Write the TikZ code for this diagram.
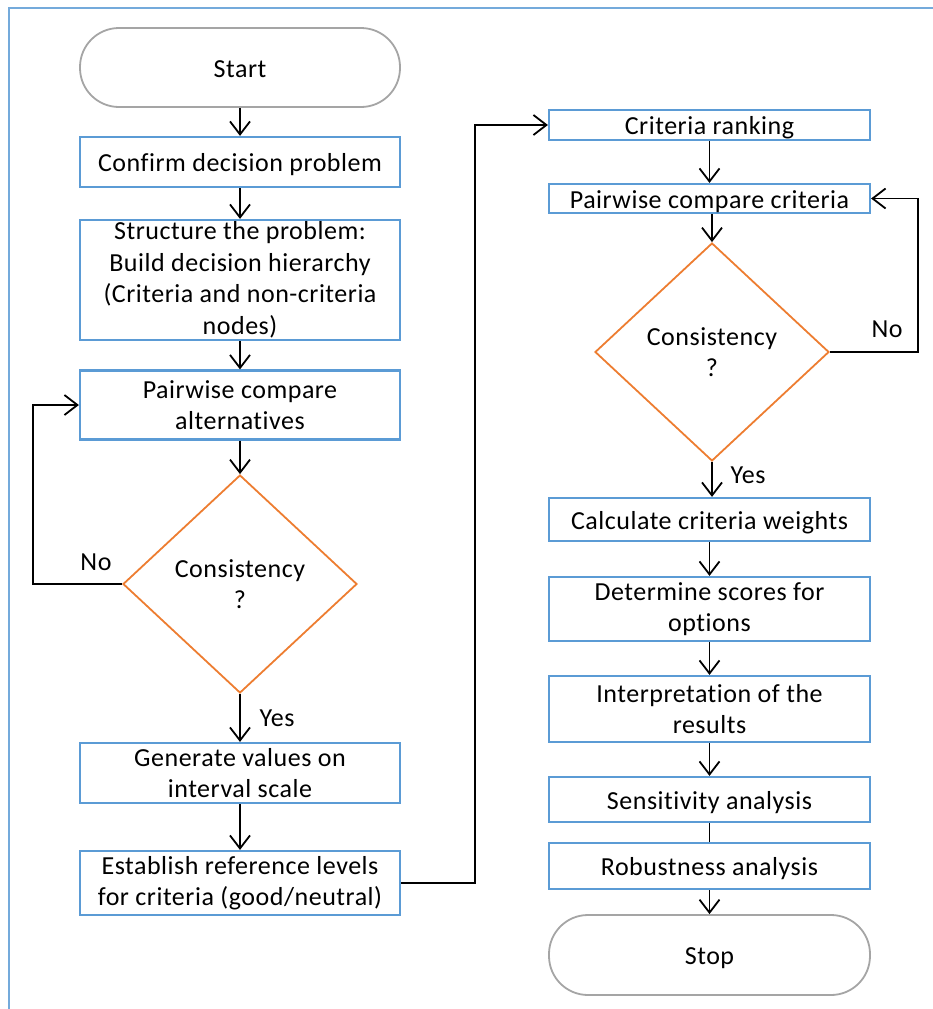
\documentclass[tikz,border=0pt]{standalone}
\usepackage{fontspec}
\setmainfont{Carlito}[Ligatures=NoCommon, LetterSpace=2]
\usetikzlibrary{arrows.meta,shapes.geometric}

\definecolor{boxblue}{HTML}{5B9BD5}
\definecolor{decorange}{HTML}{ED7D31}
\definecolor{termgrey}{HTML}{A5A5A5}

\begin{document}
\begin{tikzpicture}[x=1pt,y=-1pt,
  every node/.style={font=\fontsize{26}{31.5}\selectfont, inner sep=0pt, align=center},
  oneline/.style={text height=21pt, text depth=1.3pt},
  procbox/.style={draw=boxblue, line width=2.2pt, minimum width=320pt},
  term/.style={draw=termgrey, line width=1.8pt, rounded corners=39pt,
               minimum width=320pt, minimum height=79pt, oneline},
  decision/.style={draw=decorange, diamond, line width=1.8pt,
                   minimum width=234pt, minimum height=218pt},
  flow/.style={line width=1.8pt, -{Straight Barb[length=13pt,width=20pt,line width=1.8pt]}},
  link/.style={line width=1.8pt}
]
\useasboundingbox (0,0) rectangle (932,1009);

% frame
\draw[boxblue!85, line width=2pt] (9,1015) -- (9,8) -- (940,8);

% left column
\node[term] (start) at (240,67.5) {Start};
\node[procbox, oneline, minimum height=50pt] (confirm) at (240,162) {Confirm decision problem};
\node[procbox, minimum height=120pt] (struct) at (240,280)
  {Structure the problem:\\Build decision hierarchy\\(Criteria and non-criteria\\nodes)};
\node[procbox, minimum height=69pt] (alt) at (240,405) {Pairwise compare\\alternatives};
\node[decision] (cons1) at (240,584) {Consistency\\?};
\node[procbox, minimum height=60pt] (gen) at (240,773) {Generate values on\\interval scale};
\node[procbox, minimum height=64pt] (refl) at (240,883) {Establish reference levels\\for criteria (good/neutral)};

% right column
\node[procbox, oneline, minimum height=30pt, minimum width=321pt] (rank) at (709.5,125) {Criteria ranking};
\node[procbox, oneline, minimum height=29pt, minimum width=321pt] (pcc) at (709.5,198.5) {Pairwise compare criteria};
\node[decision] (cons2) at (712,352) {Consistency\\?};
\node[procbox, oneline, minimum height=43pt, minimum width=321pt] (weights) at (709.5,519.5) {Calculate criteria weights};
\node[procbox, minimum height=64pt, minimum width=321pt] (scores) at (709.5,609) {Determine scores for\\options};
\node[procbox, minimum height=66pt, minimum width=321pt] (interp) at (709.5,709) {Interpretation of the\\results};
\node[procbox, oneline, minimum height=45pt, minimum width=321pt] (sens) at (709.5,799.5) {Sensitivity analysis};
\node[procbox, oneline, minimum height=46pt, minimum width=321pt] (robust) at (709.5,866) {Robustness analysis};
\node[term, minimum width=321pt, minimum height=80pt] (stop) at (709.5,955) {Stop};

% branch labels
\node (no1) at (96,562) {No};
\node (yes1) at (277,718) {Yes};
\node (yes2) at (748,475) {Yes};
\node (no2) at (887,329) {No};

% routing points
\coordinate (lturn) at (33,584);
\coordinate (rturn) at (918,352);
\coordinate (jump) at (475,883);

% connectors, left column
\draw[flow] (start) -- (confirm);
\draw[flow] (confirm) -- (struct);
\draw[flow] (struct) -- (alt);
\draw[flow] (alt) -- (cons1);
\draw[flow] (cons1.west) -- (lturn) |- (alt.west);
\draw[flow] (cons1) -- (gen);
\draw[flow] (gen) -- (refl);
\draw[flow] (refl.east) -- (jump) |- (rank.west);

% connectors, right column
\draw[flow] (rank) -- (pcc);
\draw[flow] (pcc.south -| cons2.north) -- (cons2.north);
\draw[flow] (cons2.east) -- (rturn) |- (pcc.east);
\draw[flow] (cons2.south) -- (cons2.south |- weights.north);
\draw[flow] (weights) -- (scores);
\draw[flow] (scores) -- (interp);
\draw[flow] (interp) -- (sens);
\draw[link] (sens) -- (robust);
\draw[flow] (robust) -- (stop);
\end{tikzpicture}
\end{document}
